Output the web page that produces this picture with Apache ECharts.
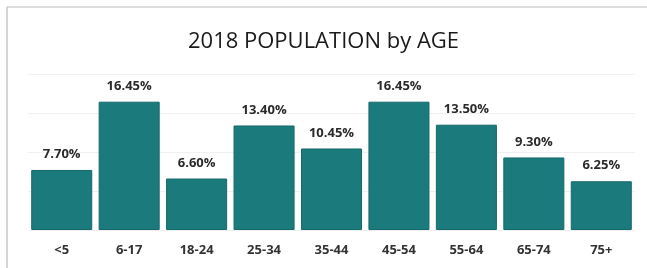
<!DOCTYPE html>
<html>
<head>
<meta charset="utf-8">
<script src="https://cdn.jsdelivr.net/npm/echarts@6/dist/echarts.min.js"></script>
<style>
html,body{margin:0;padding:0;background:#fff;}
#chart{width:647px;height:268px;}
</style>
</head>
<body>
<div id="chart"></div>
<script>
const titleText = '2018 POPULATION by AGE';
const categories = ['<5', '6-17', '18-24', '25-34', '35-44', '45-54', '55-64', '65-74', '75+'];
const values = [7.70, 16.45, 6.60, 13.40, 10.45, 16.45, 13.50, 9.30, 6.25];

const chart = echarts.init(document.getElementById('chart'), null, {renderer: 'canvas'});
chart.setOption({
  backgroundColor: '#ffffff',
  animation: false,
  title: {
    text: titleText,
    left: 'center',
    top: 26,
    textStyle: {fontFamily: 'Open Sans', fontSize: 22, fontWeight: 'normal', color: '#1a1a1a'}
  },
  grid: {left: 28, right: 12, top: 74, bottom: 38},
  xAxis: {
    type: 'category',
    data: categories,
    axisLine: {show: false},
    axisTick: {show: false},
    axisLabel: {margin: 14, fontFamily: 'Open Sans', fontSize: 13, fontWeight: 'bold', color: '#333333'}
  },
  yAxis: {
    type: 'value',
    min: 0, max: 20, interval: 5,
    axisLabel: {show: false},
    axisLine: {show: false},
    axisTick: {show: false},
    splitLine: {lineStyle: {color: '#f0f0f0', width: 1}}
  },
  series: [{
    type: 'bar',
    data: values,
    barCategoryGap: '9.5%',
    itemStyle: {color: '#1b7a7b', borderColor: '#16696a', borderWidth: 1},
    label: {
      show: true,
      position: 'top',
      distance: 9,
      formatter: p => p.value.toFixed(2) + '%',
      fontFamily: 'Open Sans', fontSize: 13, fontWeight: 'bold', color: '#2a2a2a'
    }
  }],
  graphic: [
    {type: 'line', shape: {x1: 7, y1: 7, x2: 647, y2: 7}, style: {stroke: '#d0d0d0', lineWidth: 1.5}},
    {type: 'line', shape: {x1: 7, y1: 7, x2: 7, y2: 268}, style: {stroke: '#c8c8c8', lineWidth: 1.5}}
  ]
});
</script>
</body>
</html>
